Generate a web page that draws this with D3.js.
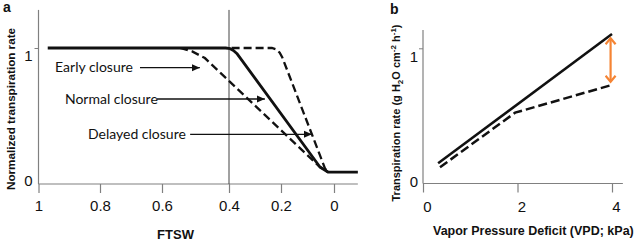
<!DOCTYPE html>
<html>
<head>
<meta charset="utf-8">
<script src="https://cdn.jsdelivr.net/npm/d3@7"></script>
<style>
  body { margin: 0; background: #fff; }
  svg { display: block; }
  text { font-family: "Liberation Sans", Arial, sans-serif; fill: #111; }
</style>
</head>
<body>
<div id="chart-area"></div>
<script>
// DATA - PANEL A (FTSW vs normalized transpiration)
const ftswTicks = [1, 0.8, 0.6, 0.4, 0.2, 0]
const rateTicks = [0, 1]
const normalClosure  = [[0.97, 1], [0.41, 1], [0.395, 0.995], [0.383, 0.982], [0.37, 0.96], [0.053, 0.125], [0.023, 0.088], [-0.09, 0.088]]
const earlyClosure   = [[0.546, 1], [0.51, 0.975], [0.472, 0.926], [0.053, 0.125], [0.023, 0.088]]
const delayedClosure = [[0.39, 1], [0.235, 1], [0.218, 0.99], [0.205, 0.965], [0.195, 0.93], [0.034, 0.115], [0.023, 0.088]]
const thresholdFtsw = 0.4

// ANNOTATIONS: label, label start, arrow from, arrow to, level
const labelNames  = ['Early closure', 'Normal closure', 'Delayed closure']
const labelStarts = [0.946, 0.914, 0.839]
const arrowFrom   = [0.671, 0.616, 0.516]
const arrowTo     = [0.487, 0.262, 0.083]
const arrowLevel  = [0.855, 0.625, 0.365]

// DATA - PANEL B (VPD vs transpiration rate)
const vpdTicks = [0, 2, 4]
const transTicks = [0, 1]
const solidVpd  = [[0.32, 0.149], [4, 1.106]]
const dashedVpd = [[0.36, 0.12], [1.95, 0.524], [4, 0.729]]
const gapArrow  = [[3.97, 1.074], [3.97, 0.753]]

const W = 638, H = 245
const axisColor = '#808080'

// CREATE SVG CONTAINER
const svg = d3.select('#chart-area')
              .append('svg')
              .attr('width', W)
              .attr('height', H)

const defs = svg.append('defs')
defs.append('marker')
    .attr('id', 'head')
    .attr('viewBox', '-8 -4 8 8')
    .attr('markerUnits', 'userSpaceOnUse')
    .attr('markerWidth', 8).attr('markerHeight', 8)
    .attr('refX', 0).attr('refY', 0)
    .attr('orient', 'auto')
    .append('path')
    .attr('d', 'M-8,-3.5L0,0L-8,3.5Z')
    .attr('fill', '#111')
defs.append('marker')
    .attr('id', 'chevron')
    .attr('viewBox', '-8 -6 10 12')
    .attr('markerUnits', 'userSpaceOnUse')
    .attr('markerWidth', 10).attr('markerHeight', 12)
    .attr('refX', 0).attr('refY', 0)
    .attr('orient', 'auto-start-reverse')
    .append('path')
    .attr('d', 'M-6,-5L0,0L-6,5')
    .attr('fill', 'none')
    .attr('stroke', '#f58434')
    .attr('stroke-width', 2.2)

// ---------------- PANEL A ----------------
// hand drawn axis: tick spacing is not even, so piecewise scale
const xA = d3.scaleLinear()
             .domain(ftswTicks)
             .range([38.5, 100, 162, 229, 281, 334])
const yA = d3.scaleLinear()
             .domain([0, 1])
             .range([184, 48])

const gA = svg.append('g')

// axis lines
gA.append('line')
  .attr('x1', xA(1)).attr('x2', xA(1))
  .attr('y1', yA(0)).attr('y2', yA(1.28))
  .attr('stroke', axisColor).attr('stroke-width', 1.2)
gA.append('line')
  .attr('x1', xA(1)).attr('x2', xA(-0.09))
  .attr('y1', yA(0)).attr('y2', yA(0))
  .attr('stroke', axisColor).attr('stroke-width', 1.2)

const xAxisA = gA.append('g')
  .attr('transform', `translate(0,${yA(0)})`)
  .call(d3.axisBottom(xA).tickValues(ftswTicks).tickSize(9).tickFormat(d3.format('')))
xAxisA.select('.domain').remove()
xAxisA.selectAll('.tick line').attr('stroke', axisColor).attr('stroke-width', 1.2)
xAxisA.selectAll('.tick text')
      .attr('y', 16).attr('dy', '0.71em')
      .style('font-size', '15px').attr('fill', '#111')

const yAxisA = gA.append('g')
  .attr('transform', `translate(${xA(1)},0)`)
  .call(d3.axisLeft(yA).tickValues(rateTicks).tickSize(4).tickFormat(d3.format('d')))
yAxisA.select('.domain').remove()
yAxisA.selectAll('.tick line').attr('stroke', d => d === 0 ? 'none' : axisColor)
yAxisA.selectAll('.tick text')
      .attr('x', -6).attr('dy', d => d === 1 ? '0.85em' : '0.1em')
      .style('font-size', '15px').attr('fill', '#111')

// threshold line
gA.append('line')
  .attr('x1', xA(thresholdFtsw)).attr('x2', xA(thresholdFtsw))
  .attr('y1', yA(0)).attr('y2', yA(1.28))
  .attr('stroke', '#444').attr('stroke-width', 1)

const lineA = d3.line().x(d => xA(d[0])).y(d => yA(d[1]))

gA.append('path').datum(earlyClosure)
  .attr('d', lineA).attr('fill', 'none')
  .attr('stroke', '#111').attr('stroke-width', 2.3)
  .attr('stroke-dasharray', '8,4')
gA.append('path').datum(delayedClosure)
  .attr('d', lineA).attr('fill', 'none')
  .attr('stroke', '#111').attr('stroke-width', 2.3)
  .attr('stroke-dasharray', '8,4')
gA.append('path').datum(normalClosure)
  .attr('d', lineA).attr('fill', 'none')
  .attr('stroke', '#111').attr('stroke-width', 2.8)
  .attr('stroke-linejoin', 'round')

// annotation arrows
labelNames.forEach((name, i) => {
    gA.append('line')
      .attr('x1', xA(arrowFrom[i])).attr('x2', xA(arrowTo[i]))
      .attr('y1', yA(arrowLevel[i])).attr('y2', yA(arrowLevel[i]))
      .attr('stroke', '#111').attr('stroke-width', 1.3)
      .attr('marker-end', 'url(#head)')
    gA.append('text')
      .attr('x', xA(labelStarts[i]))
      .attr('y', yA(arrowLevel[i]) + 4.5)
      .style('font-family', 'Lato, "Open Sans", sans-serif')
      .style('font-size', '14px')
      .text(name)
})

// titles
gA.append('text')
  .attr('x', 3).attr('y', 12)
  .style('font-size', '14px').style('font-weight', 'bold')
  .text('a')
gA.append('text')
  .attr('transform', 'translate(15,109) rotate(-90)')
  .attr('text-anchor', 'middle')
  .attr('textLength', 162).attr('lengthAdjust', 'spacingAndGlyphs')
  .style('font-size', '11.5px').style('font-weight', 'bold')
  .text('Normalized transpiration rate')
gA.append('text')
  .attr('x', 175.5).attr('y', 239)
  .attr('text-anchor', 'middle')
  .style('font-size', '13px').style('font-weight', 'bold')
  .text('FTSW')

// ---------------- PANEL B ----------------
const xB = d3.scaleLinear()
             .domain([0, 4])
             .range([423, 612])
const yB = d3.scaleLinear()
             .domain([0, 1])
             .range([183.5, 48.3])

const gB = svg.append('g')

gB.append('line')
  .attr('x1', xB(0)).attr('x2', xB(0))
  .attr('y1', yB(0)).attr('y2', yB(1.135))
  .attr('stroke', axisColor).attr('stroke-width', 1.2)
gB.append('line')
  .attr('x1', xB(0)).attr('x2', xB(4.23))
  .attr('y1', yB(0)).attr('y2', yB(0))
  .attr('stroke', axisColor).attr('stroke-width', 1.2)

const xAxisB = gB.append('g')
  .attr('transform', `translate(0,${yB(0)})`)
  .call(d3.axisBottom(xB).tickValues(vpdTicks).tickSize(9).tickFormat(d3.format('d')))
xAxisB.select('.domain').remove()
xAxisB.selectAll('.tick line').attr('stroke', axisColor).attr('stroke-width', 1.2)
xAxisB.selectAll('.tick text')
      .attr('y', 18).attr('dx', 4).attr('dy', '0.71em')
      .style('font-size', '15px').attr('fill', '#111')

const yAxisB = gB.append('g')
  .attr('transform', `translate(${xB(0)},0)`)
  .call(d3.axisLeft(yB).tickValues(transTicks).tickSize(4).tickFormat(d3.format('d')))
yAxisB.select('.domain').remove()
yAxisB.selectAll('.tick line').attr('stroke', d => d === 0 ? 'none' : axisColor)
yAxisB.selectAll('.tick text')
      .attr('x', -5).attr('dy', d => d === 1 ? '0.85em' : '0.2em')
      .style('font-size', '15px').attr('fill', '#111')

const lineB = d3.line().x(d => xB(d[0])).y(d => yB(d[1]))

gB.append('path').datum(solidVpd)
  .attr('d', lineB).attr('fill', 'none')
  .attr('stroke', '#111').attr('stroke-width', 2.5)
gB.append('path').datum(dashedVpd)
  .attr('d', lineB).attr('fill', 'none')
  .attr('stroke', '#111').attr('stroke-width', 2.5)
  .attr('stroke-dasharray', '9,4')

gB.append('path').datum(gapArrow)
  .attr('d', lineB).attr('fill', 'none')
  .attr('stroke', '#f58434').attr('stroke-width', 2.2)
  .attr('marker-start', 'url(#chevron)')
  .attr('marker-end', 'url(#chevron)')

gB.append('text')
  .attr('x', 390).attr('y', 14)
  .style('font-size', '14px').style('font-weight', 'bold')
  .text('b')

const yLabelB = gB.append('text')
  .attr('transform', 'translate(400,113) rotate(-90)')
  .attr('text-anchor', 'middle')
  .style('font-size', '11px').style('font-weight', 'bold')
yLabelB.append('tspan').text('Transpiration rate (g H')
yLabelB.append('tspan').attr('dy', 3).style('font-size', '8px').text('2')
yLabelB.append('tspan').attr('dy', -3).text('O cm')
yLabelB.append('tspan').attr('dy', -4).style('font-size', '8px').text('-2')
yLabelB.append('tspan').attr('dy', 4).text(' h')
yLabelB.append('tspan').attr('dy', -4).style('font-size', '8px').text('-1')
yLabelB.append('tspan').attr('dy', 4).text(')')

gB.append('text')
  .attr('x', 433).attr('y', 235)
  .style('font-size', '12.5px').style('font-weight', 'bold')
  .text('Vapor Pressure Deficit (VPD; kPa)')
</script>
</body>
</html>
